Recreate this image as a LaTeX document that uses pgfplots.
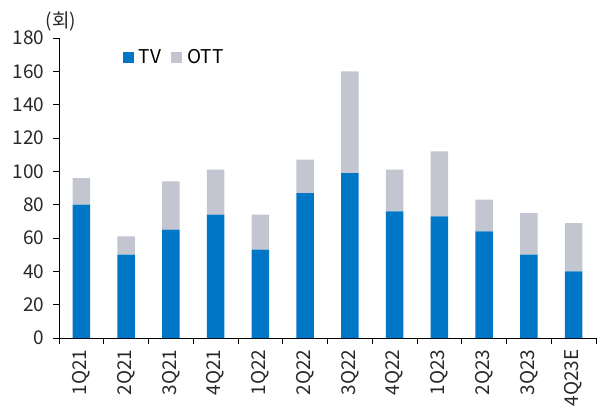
\documentclass[border=0pt]{standalone}
\usepackage{fontspec}
\setmainfont{Noto Sans CJK KR}
\usepackage{pgfplots}
\pgfplotsset{compat=1.18}
\definecolor{tvblue}{RGB}{0,118,198}
\definecolor{ottgray}{RGB}{195,197,208}
\definecolor{txt}{RGB}{40,40,40}
\newcommand{\lbl}{\fontsize{19}{22}\selectfont}
\begin{document}
\begin{tikzpicture}
\path[use as bounding box] (-59pt,-77pt) rectangle (543pt,338pt);
\begin{axis}[
  scale only axis, width=537pt, height=300pt,
  ybar stacked, bar width=17.5pt,
  xmin=-0.5, xmax=11.5, ymin=0, ymax=180,
  clip=false,
  ytick={0,20,...,180},
  axis x line*=bottom, axis y line*=left,
  axis line style={black, line width=0.8pt, -},
  tick align=outside, major tick length=6pt,
  tick style={black, line width=0.8pt},
  xtick={-0.5,0.5,...,11.5}, xticklabels={,,,,,,,,,,,,,},
  extra x ticks={0,1,...,11},
  extra x tick labels={1Q21,2Q21,3Q21,4Q21,1Q22,2Q22,3Q22,4Q22,1Q23,2Q23,3Q23,4Q23E},
  extra x tick style={major tick length=0pt, tick style={draw=none}},
  xticklabel style={rotate=90, anchor=east, font=\lbl, text=txt, xshift=-8pt},
  yticklabel style={font=\lbl, text=txt, xshift=-5pt},
  /pgf/number format/assume math mode=true,
  legend columns=2,
  legend style={draw=none, fill=none, at={(0.113,0.975)}, anchor=north west, font=\lbl,
    /tikz/every odd column/.append style={column sep=3pt},
    /tikz/every even column/.append style={column sep=8pt}},
  legend image code/.code={\fill[#1, draw=none] (0pt,-5.5pt) rectangle (11pt,5.5pt);},
]
\addplot+[fill=tvblue, draw=none] coordinates {(0,80) (1,50) (2,65) (3,74) (4,53) (5,87) (6,99) (7,76) (8,73) (9,64) (10,50) (11,40)};
\addplot+[fill=ottgray, draw=none] coordinates {(0,16) (1,11) (2,29) (3,27) (4,21) (5,20) (6,61) (7,25) (8,39) (9,19) (10,25) (11,29)};
\legend{TV,OTT}
\node[font=\lbl, text=txt] at (rel axis cs:0,1) [xshift=2pt, yshift=16pt] {(회)};
\end{axis}
\end{tikzpicture}
\end{document}
